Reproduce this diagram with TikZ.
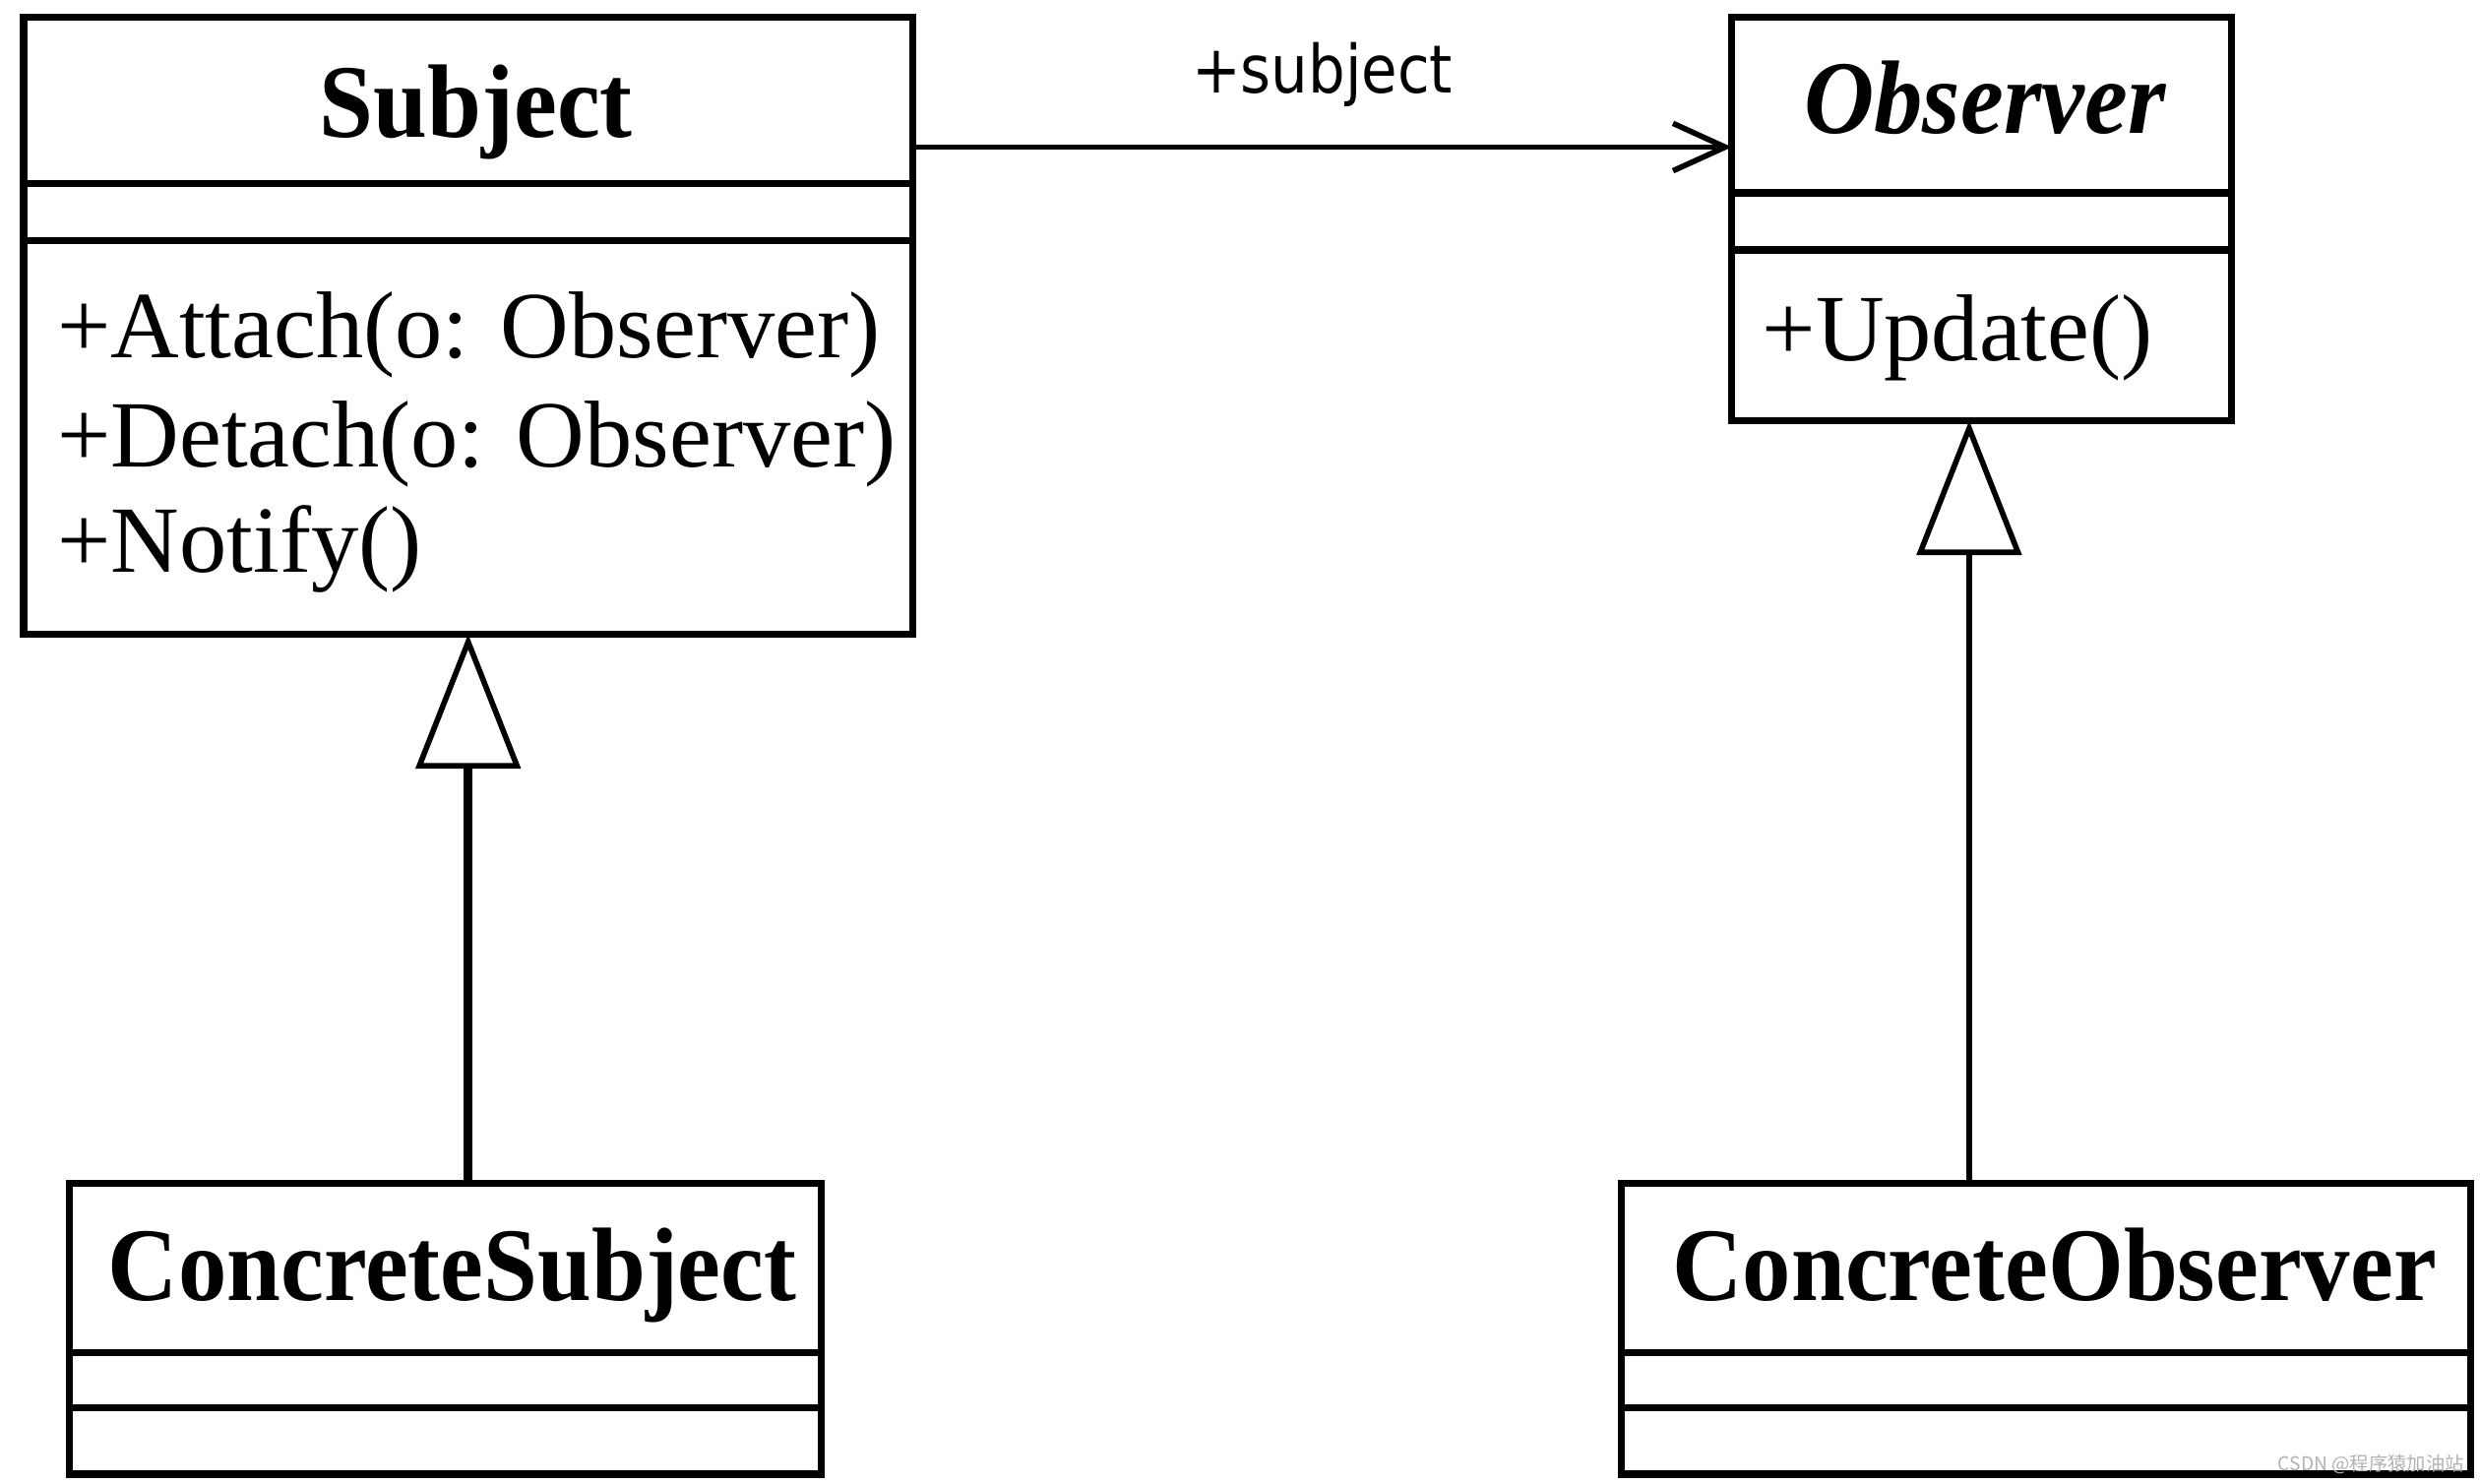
\documentclass[tikz,border=0pt]{standalone}
\usepackage{fontspec}
\setmainfont{Liberation Serif}
\newfontfamily\titlefont[FakeStretch=0.93]{Liberation Serif}
\newfontfamily\labfont[FakeStretch=0.88]{DejaVu Sans}
\newfontfamily\cjk{Noto Sans CJK SC}
\usetikzlibrary{arrows.meta,calc}
\begin{document}
\begin{tikzpicture}[x=1pt,y=-1pt,
  cls/.style={draw,line width=4.5pt,inner sep=0pt,outer sep=0pt},
  sepline/.style={line width=4.5pt},
  ttl/.style={font=\titlefont\bfseries\fontsize{66}{66}\selectfont,anchor=base,inner sep=0pt},
  mth/.style={font=\fontsize{60}{60}\selectfont,anchor=base west,inner sep=0pt},
  lab/.style={font=\labfont\fontsize{42}{42}\selectfont,anchor=base,inner sep=0pt},
  assoc/.style={line width=3.5pt,-{Straight Barb[length=33pt,width=30pt]}},
  gen/.style={-{Triangle[length=85pt,width=66pt,fill=white,line width=3.5pt]}}
]
\useasboundingbox (0,0) rectangle (1568,938);
\fill[white] (0,0) rectangle (1568,938);

% classes
\node[cls,minimum width=562pt,minimum height=390pt] (subj) at (296,206) {};
\node[cls,minimum width=316pt,minimum height=255pt] (obs) at (1253,138.5) {};
\node[cls,minimum width=475pt,minimum height=184pt] (csub) at (281.5,840) {};
\node[cls,minimum width=537pt,minimum height=184pt] (cobs) at (1293.5,840) {};

% compartments
\draw[sepline] ($(subj.north west)+(0,105)$) -- ($(subj.north east)+(0,105)$);
\draw[sepline] ($(subj.north west)+(0,141)$) -- ($(subj.north east)+(0,141)$);
\draw[sepline] ($(obs.north west)+(0,111)$) -- ($(obs.north east)+(0,111)$);
\draw[sepline] ($(obs.north west)+(0,147)$) -- ($(obs.north east)+(0,147)$);
\draw[sepline] ($(csub.north west)+(0,107)$) -- ($(csub.north east)+(0,107)$);
\draw[sepline] ($(csub.north west)+(0,142)$) -- ($(csub.north east)+(0,142)$);
\draw[sepline] ($(cobs.north west)+(0,107)$) -- ($(cobs.north east)+(0,107)$);
\draw[sepline] ($(cobs.north west)+(0,142)$) -- ($(cobs.north east)+(0,142)$);

% texts
\node[ttl] (subjT) at (301,87) {Subject};
\node[mth] (m1) at (36,226) {+Attach(o: Observer)};
\node[mth] (m2) at (36,295) {+Detach(o: Observer)};
\node[mth] (m3) at (36,362) {+Notify()};
\node[ttl,font=\titlefont\bfseries\itshape\fontsize{66}{66}\selectfont] (obsT) at (1255,84) {Observer};
\node[mth] (m4) at (1114,228) {+Update()};
\node[ttl] (csubT) at (286,822) {ConcreteSubject};
\node[ttl] (cobsT) at (1299,822) {ConcreteObserver};

% connectors
\draw[assoc] ($(subj.north east)+(0,82)$) -- ($(obs.north west)+(0,82)$)
  node[lab,midway,above=24pt] (assocL) {+subject};
\draw[gen,line width=5.5pt] ($(csub.north west)+(252,0)$) -- ($(subj.south west)+(281,0)$);
\draw[gen,line width=3.5pt] ($(cobs.north west)+(220,0)$) -- ($(obs.south west)+(150,0)$);

% watermark
\node[font=\cjk\fontsize{12}{12}\selectfont,text=gray!60,anchor=base east,inner sep=0pt] (wm) at (1558,930) {CSDN @程序猿加油站};
\end{tikzpicture}
\end{document}
